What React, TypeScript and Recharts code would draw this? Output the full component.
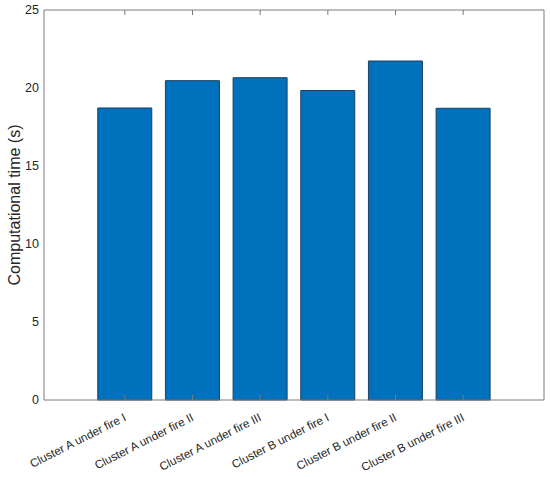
import { BarChart, Bar, XAxis, YAxis } from "recharts";

const categories = [
  "Cluster A under fire I",
  "Cluster A under fire II",
  "Cluster A under fire III",
  "Cluster B under fire I",
  "Cluster B under fire II",
  "Cluster B under fire III",
];
const computationalTime = [18.72, 20.47, 20.66, 19.84, 21.73, 18.7];
const yTicks = [0, 5, 10, 15, 20, 25];

const data = categories.map((name, i) => ({ name, time: computationalTime[i] }));

const FONT = "'Liberation Sans', Arial, Helvetica, sans-serif";
const AXIS = "#7a7a7a";
const TEXT = "#262626";
const PAD = { left: 47, right: 47 };

function RotatedTick(props: any) {
  const { x, y, payload } = props;
  return (
    <g transform={`translate(${x + 2}, ${y})`}>
      <text
        transform="rotate(-27)"
        textAnchor="end"
        fontSize={11.7}
        fontFamily={FONT}
        fill={TEXT}
      >
        {payload.value}
      </text>
    </g>
  );
}

function EmptyTick() {
  return <g />;
}

function YLabel(props: any) {
  const vb = props.viewBox;
  const cy = vb.y + vb.height / 2;
  return (
    <text
      transform={`translate(14, ${cy}) rotate(-90)`}
      textAnchor="middle"
      dominantBaseline="central"
      fontSize={16}
      fontFamily={FONT}
      fill={TEXT}
    >
      Computational time (s)
    </text>
  );
}

export default function App() {
  return (
    <div style={{ position: "absolute", left: 0, top: 0, background: "#fff" }}>
      <BarChart
        width={550}
        height={477}
        data={data}
        margin={{ top: 10, right: 6, bottom: 0, left: 0 }}
        barCategoryGap="10%"
      >
        {/* labels */}
        <XAxis
          xAxisId="b"
          dataKey="name"
          interval={0}
          height={77}
          padding={PAD}
          tickSize={0}
          tickMargin={20}
          tick={<RotatedTick />}
          tickLine={false}
          axisLine={false}
        />
        <YAxis
          yAxisId="l"
          width={44}
          domain={[0, 25]}
          ticks={yTicks}
          interval={0}
          tickSize={0}
          tickMargin={5}
          tick={{ fontSize: 12.5, fontFamily: FONT, fill: TEXT }}
          tickLine={false}
          axisLine={false}
          label={{ content: <YLabel /> }}
        />
        {/* box with inward ticks */}
        <XAxis
          xAxisId="bm"
          dataKey="name"
          mirror
          interval={0}
          padding={PAD}
          tickSize={5}
          tick={<EmptyTick />}
          tickLine={{ stroke: AXIS }}
          axisLine={{ stroke: AXIS }}
        />
        <XAxis
          xAxisId="tm"
          orientation="top"
          dataKey="name"
          mirror
          interval={0}
          padding={PAD}
          tickSize={5}
          tick={<EmptyTick />}
          tickLine={{ stroke: AXIS }}
          axisLine={{ stroke: AXIS }}
        />
        <YAxis
          yAxisId="lm"
          mirror
          domain={[0, 25]}
          ticks={yTicks}
          interval={0}
          tickSize={5}
          tick={<EmptyTick />}
          tickLine={{ stroke: AXIS }}
          axisLine={{ stroke: AXIS }}
        />
        <YAxis
          yAxisId="rm"
          orientation="right"
          mirror
          domain={[0, 25]}
          ticks={yTicks}
          interval={0}
          tickSize={5}
          tick={<EmptyTick />}
          tickLine={{ stroke: AXIS }}
          axisLine={{ stroke: AXIS }}
        />
        <Bar
          xAxisId="b"
          yAxisId="l"
          dataKey="time"
          fill="#0072BD"
          stroke="#1d3f5e"
          strokeWidth={1}
          isAnimationActive={false}
        />
      </BarChart>
    </div>
  );
}
